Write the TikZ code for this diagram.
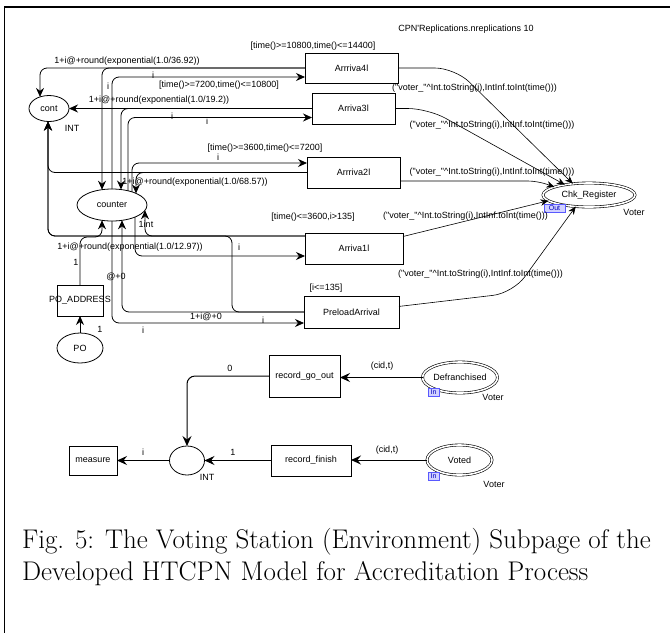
\documentclass[tikz,border=0pt]{standalone}
\usepackage{fontspec}
\newfontfamily\cpn{Liberation Sans}
\usetikzlibrary{arrows.meta,shapes.geometric}
\begin{document}
\begin{tikzpicture}[x=1pt,y=-1pt,
  every node/.style={font=\cpn\fontsize{9}{10}\selectfont, inner sep=0pt, outer sep=0pt},
  trans/.style={draw, line width=0.8pt, rectangle},
  place/.style={draw, line width=0.8pt, ellipse},
  port/.style={draw, ellipse, line width=0.6pt, double, double distance=1.6pt},
  arc/.style={line width=0.8pt, rounded corners=7pt, -{Stealth[length=9pt,width=8pt,inset=3pt]}},
  arcR/.style={line width=0.6pt, rounded corners=20pt, -{Stealth[length=8pt,width=6.5pt,inset=2.5pt]}},
  arcB/.style={line width=1pt, rounded corners=8pt, -{Stealth[length=10pt,width=9pt,inset=3.5pt]}},
  tag/.style={draw=blue!65, fill=blue!18, text=blue!75!black, font=\cpn\fontsize{7}{7}\selectfont, inner sep=0.6pt, line width=0.5pt}
]
\useasboundingbox (0,0) rectangle (670,633);

% page frame
\draw[line width=2pt] (4,7) -- (670,7);
\draw[line width=1.3pt] (4.5,7) -- (4.5,633);

% transitions
\node[trans, minimum width=93pt, minimum height=30pt] (A4) at (351.5,68) {Arrriva4l};
\node[trans, minimum width=83pt, minimum height=31pt] (A3) at (353.5,108.5) {Arriva3l};
\node[trans, minimum width=93pt, minimum height=31pt] (A2) at (353.5,172.5) {Arrriva2l};
\node[trans, minimum width=98pt, minimum height=31pt] (A1) at (354,248.5) {Arriva1l};
\node[trans, minimum width=95pt, minimum height=32pt] (PA) at (351.5,312) {PreloadArrival};
\node[trans, minimum width=46pt, minimum height=31pt] (POA) at (80,300.5) {};
\node (POAt) at (POA) {PO\_ADDRESS};
\node[trans, minimum width=71pt, minimum height=42pt] (RGO) at (304.5,376) {record\_go\_out};
\node[trans, minimum width=80pt, minimum height=31pt] (RF) at (311,460.5) {record\_finish};
\node[trans, minimum width=48pt, minimum height=29pt] (MS) at (93,460.5) {measure};

% places
\node[place, minimum width=40pt, minimum height=26pt] (cont) at (49,108.5) {cont};
\node[place, minimum width=70pt, minimum height=32pt] (counter) at (112,205) {counter};
\node[place, minimum width=46pt, minimum height=30pt] (PO) at (80,348) {PO};
\node[place, minimum width=35pt, minimum height=29pt] (P) at (187,460.5) {};
\node[port, minimum width=92pt, minimum height=24pt] (CR) at (589,195) {Chk\_Register};
\node[port, minimum width=66pt, minimum height=31pt] (DF) at (460,377.5) {Defranchised};
\node[port, minimum width=65pt, minimum height=30pt] (VT) at (459.5,460) {Voted};

% port tags and colour sets
\node[tag, minimum width=21pt, minimum height=8pt] (outtag) at (554.5,208.5) {Out};
\node[tag, minimum width=11pt, minimum height=8pt] (intag1) at (433.5,392) {In};
\node[tag, minimum width=11pt, minimum height=8pt] (intag2) at (433.5,476) {In};
\node (tCR) at (634,212) {Voter};
\node (tDF) at (493,397) {Voter};
\node (tVT) at (494,484) {Voter};
\node (tcont) at (72,128) {INT};
\node (tP) at (207,477) {INT};
\node (tcounter) at (146,224) {1int};

% arcs around counter and cont
\draw[arc] (A4.west) -| ([xshift=-9pt,yshift=-1.4pt]cont.north);
\draw[arc] (A4.west) -| ([xshift=-10pt,yshift=-0.7pt]counter.north);
\draw[arc] (counter.north) |- ([yshift=-9pt]A4.west);
\draw[arc] (A3.west) -- (A3.west -| cont.east);
\draw[arc] (A3.west) -| ([xshift=9pt,yshift=-0.5pt]counter.north);
\draw[arc] ([xshift=16pt,yshift=-1.8pt]counter.north) |- ([yshift=-9pt]A3.west);
\draw[arc] ([xshift=20pt,yshift=-2.9pt]counter.north) |- ([yshift=9.5pt]A2.west);
\draw[arc] (A2.west) -| ([xshift=24pt,yshift=-4.4pt]counter.north);
\draw[arc] (A2.west) -| ([xshift=-1pt]cont.south);
\draw[arc] ([yshift=12.5pt]A1.west) -| ([xshift=-1pt]cont.south);
\draw[arc] ([yshift=12.5pt]A1.west) -| ([xshift=33pt,yshift=-5.3pt]counter.center);
\draw[arc] ([xshift=23pt,yshift=-12pt]counter.center) |- ([yshift=-7.5pt]A1.west);
\draw[arc] (PA.west) -| ([xshift=-73pt,yshift=12.5pt]A1.west) -| ([xshift=-1pt]cont.south);
\draw[arc] (PA.west) -| ([xshift=10pt,yshift=-15.3pt]counter.center);
\draw[arc] (counter.south) |- ([yshift=-11pt]PA.west);
\draw[arc] (PO) -- (POA);
\draw[arc] (POA.north) |- ([xshift=-10pt,yshift=-32pt]counter.center) -- ([xshift=-10pt,yshift=-15.3pt]counter.center);

% arcs into Chk_Register
\draw[arcR] (A4.east) -- (455,68) -- (CR.145);
\draw[arcR] (A3.east) -- (428,108.5) -- (CR.157);
\draw[arcR, rounded corners=10pt] ([yshift=-8.5pt]A2.east) -- (538,181) -- (CR.167);
\draw[arcR] (A1) -- (CR.188);
\draw[arcR] (PA) -- (513,293) -- (CR.221);

% lower part
\draw[arcB] (DF.west) -- (DF.west -| RGO.east);
\draw[arcB] (RGO.west) -| (P.north);
\draw[arcB] (VT.west) -- (VT.west -| RF.east);
\draw[arcB] (RF.west) -- (RF.west -| P.east);
\draw[arcB] (P.west) -- (P.west -| MS.east);

% inscriptions
\node (rep) at (466,29) {CPN'Replications.nreplications 10};
\node (g4) at (313,46.5) {[time()>=10800,time()<=14400]};
\node (e4) at (127,61) {1+i@+round(exponential(1.0/36.92))};
\node (i4a) at (108,86) {i};
\node (i4b) at (153,75) {i};
\node (g3) at (219,85) {[time()>=7200,time()<=10800]};
\node (e3) at (159,100) {1+i@+round(exponential(1.0/19.2))};
\node (i3a) at (172,116) {i};
\node (i3b) at (207,121) {i};
\node (g2) at (265,148) {[time()>=3600,time()<=7200]};
\node (i2) at (218,157) {i};
\node (e2) at (195,182) {1+i@+round(exponential(1.0/68.57))};
\node (g1) at (313,217) {[time()<=3600,i>135]};
\node (e1) at (130,247) {1+i@+round(exponential(1.0/12.97))};
\node (i1) at (239,247) {i};
\node (n1a) at (76,262) {1};
\node (ep) at (116,277) {@+0};
\node (gp) at (326,288) {[i<=135]};
\node (eq) at (206,317) {1+i@+0};
\node (ipa) at (263,320) {i};
\node (ipb) at (143,330) {i};
\node (n1b) at (100,329) {1};
\node (v4) at (474.5,88) {("voter\_"\textasciicircum Int.toString(i),IntInf.toInt(time()))};
\node (v3) at (492,125) {("voter\_"\textasciicircum Int.toString(i),IntInf.toInt(time()))};
\node (v2) at (492,172.5) {("voter\_"\textasciicircum Int.toString(i),IntInf.toInt(time()))};
\node (v1) at (465.5,216.5) {("voter\_"\textasciicircum Int.toString(i),IntInf.toInt(time()))};
\node (v0) at (480.5,274) {("voter\_"\textasciicircum Int.toString(i),IntInf.toInt(time()))};
\node (c1) at (382,366) {(cid,t)};
\node (c2) at (387,450) {(cid,t)};
\node (z0) at (230,368) {0};
\node (z1) at (233,452.5) {1};
\node (zi) at (143,452) {i};

% caption
\node[anchor=base west, font=\rmfamily\fontsize{27}{28}\selectfont] (cap1) at (22,548) {Fig. 5: The Voting Station (Environment) Subpage of the};
\node[anchor=base west, font=\rmfamily\fontsize{27}{28}\selectfont] (cap2) at (22,580) {Developed HTCPN Model for Accreditation Process};
\end{tikzpicture}
\end{document}
